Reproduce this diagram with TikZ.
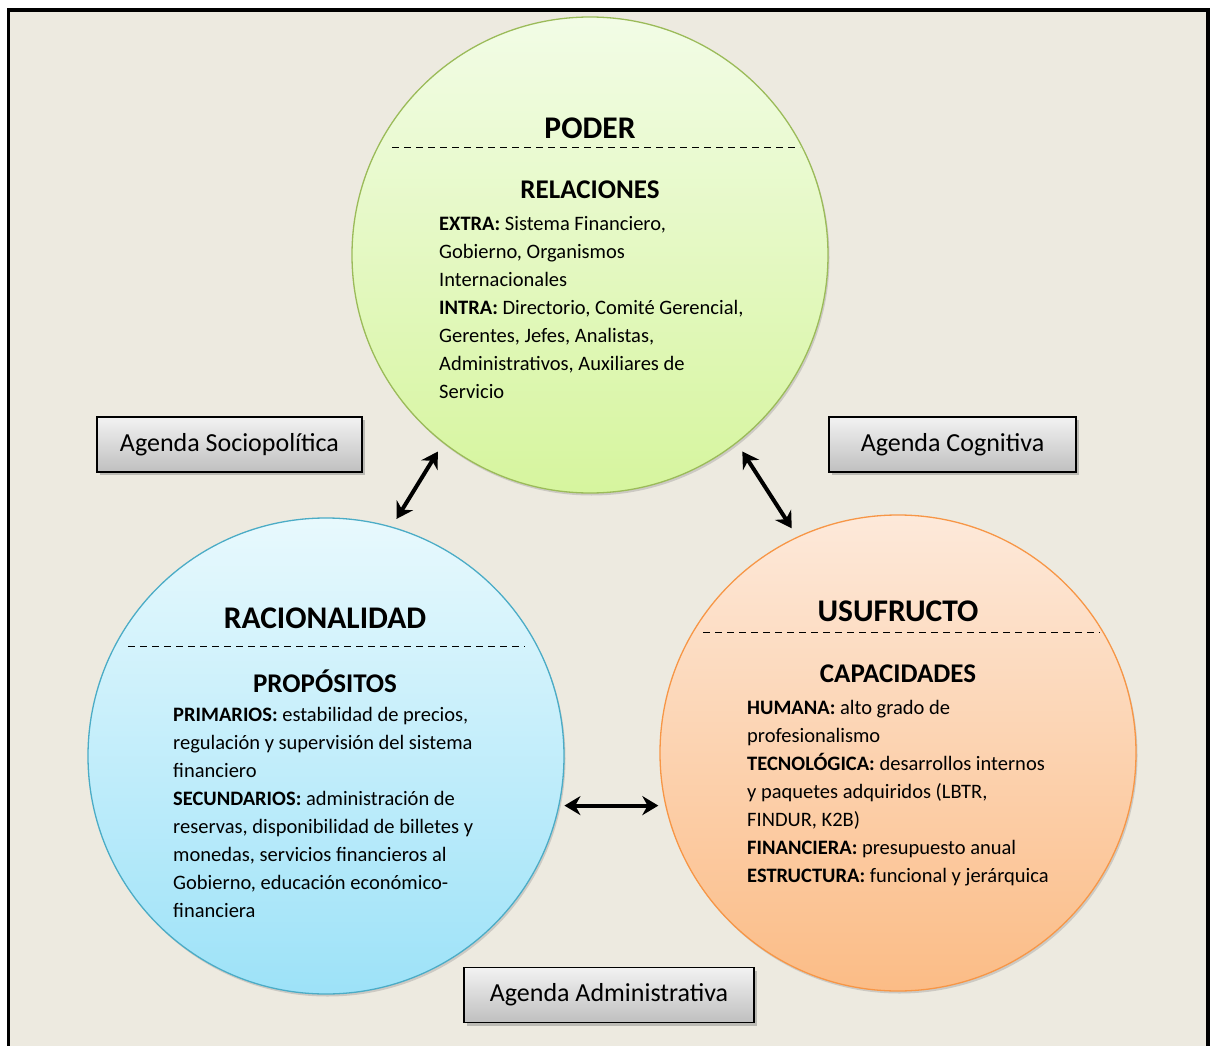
\documentclass[tikz,border=0pt]{standalone}
\usepackage{fontspec}
\setmainfont{Carlito}
\usetikzlibrary{arrows.meta,shadows}
\definecolor{paper}{HTML}{EDEAE0}
\definecolor{podertop}{HTML}{F2FCE6}
\definecolor{poderbot}{HTML}{D6F59E}
\definecolor{poderline}{HTML}{9BBB59}
\definecolor{raciotop}{HTML}{E8F9FD}
\definecolor{raciobot}{HTML}{9DE2F8}
\definecolor{racioline}{HTML}{4BACC6}
\definecolor{usufrtop}{HTML}{FDE9DA}
\definecolor{usufrbot}{HTML}{FBBC86}
\definecolor{usufrline}{HTML}{F79646}
\tikzset{ring/.style={shape=circle, minimum size=476pt, inner sep=0, line width=1.3pt,
  drop shadow={opacity=.3, shadow xshift=1.5pt, shadow yshift=-2.5pt}},
  agenda/.style={draw, line width=1.3pt, inner sep=0, minimum height=55pt,
  top color=black!5, bottom color=black!25, font=\fontsize{26}{30}\selectfont,
  drop shadow={opacity=.45, shadow xshift=3pt, shadow yshift=-3pt}},
  head/.style={font=\bfseries\fontsize{31.5}{34}\selectfont},
  subhead/.style={font=\bfseries\fontsize{27}{30}\selectfont},
  body/.style={font=\fontsize{20.5}{28}\selectfont, align=left, anchor=north west, inner sep=0},
  divider/.style={dash pattern=on 7pt off 5pt, line width=1pt},
  link/.style={{Stealth[length=16pt,width=19pt]}-{Stealth[length=16pt,width=19pt]}, line width=4pt}}

\begin{document}
\begin{tikzpicture}[x=1pt, y=-1pt]
    \useasboundingbox (0,0) rectangle (1211,1046);
    \fill [white] (0,0) rectangle (1211,1046);
    \draw [line width=3.5pt, fill=paper] (8.5,10) rectangle (1208,1080);
    % circles
    \node [ring, draw=poderline, top color=podertop, bottom color=poderbot] (poder) at (590,255) {};
    \node [ring, draw=racioline, top color=raciotop, bottom color=raciobot] (racio) at (326,756) {};
    \node [ring, draw=usufrline, top color=usufrtop, bottom color=usufrbot] (usufr) at (898,753) {};
    % poder
    \node [head] (poder-t) at (590,128) {PODER};
    \draw [divider] (392,148) -- (800,148);
    \node [subhead] (poder-s) at (590,190) {RELACIONES};
    \node [body] (poder-b) at (439,216) {\textbf{EXTRA:} Sistema Financiero,\\
      Gobierno, Organismos\\ Internacionales\\
      \textbf{INTRA:} Directorio, Comité Gerencial,\\
      Gerentes, Jefes, Analistas,\\ Administrativos, Auxiliares de\\ Servicio};
    % racionalidad
    \node [head] (racio-t) at (325,618) {RACIONALIDAD};
    \draw [divider] (128,646) -- (525,646);
    \node [subhead] (racio-s) at (325,681) {PROPÓSITOS};
    \node [body] (racio-b) at (173,707) {\textbf{PRIMARIOS:} estabilidad de precios,\\
      regulación y supervisión del sistema\\ financiero\\
      \textbf{SECUNDARIOS:} administración de\\
      reservas, disponibilidad de billetes y\\ monedas, servicios financieros al\\
      Gobierno, educación económico-\\ financiera};
    % usufructo
    \node [head] (usufr-t) at (898,611) {USUFRUCTO};
    \draw [divider] (703,632) -- (1100,632);
    \node [subhead] (usufr-s) at (898,674) {CAPACIDADES};
    \node [body] (usufr-b) at (747,700) {\textbf{HUMANA:} alto grado de\\ profesionalismo\\
      \textbf{TECNOLÓGICA:} desarrollos internos\\ y paquetes adquiridos (LBTR,\\
      FINDUR, K2B)\\ \textbf{FINANCIERA:} presupuesto anual\\
      \textbf{ESTRUCTURA:} funcional y jerárquica};
    % agendas
    \node [agenda, minimum width=265pt] (socio) at (229.5,444.5) {Agenda Sociopolítica};
    \node [agenda, minimum width=247pt] (cogni) at (952.5,444.5) {Agenda Cognitiva};
    \node [agenda, minimum width=290pt] (admin) at (609,995) {Agenda Administrativa};
    % links
    \draw [link, shorten <=10pt, shorten >=9pt] (poder.232) -- (racio.74);
    \draw [link, shorten <=10pt, shorten >=10pt] (poder.308) -- (usufr.115);
    \draw [link, shorten <=5pt, shorten >=1pt] (racio.348) -- (racio.348 -| usufr.west);
\end{tikzpicture}
\end{document}
